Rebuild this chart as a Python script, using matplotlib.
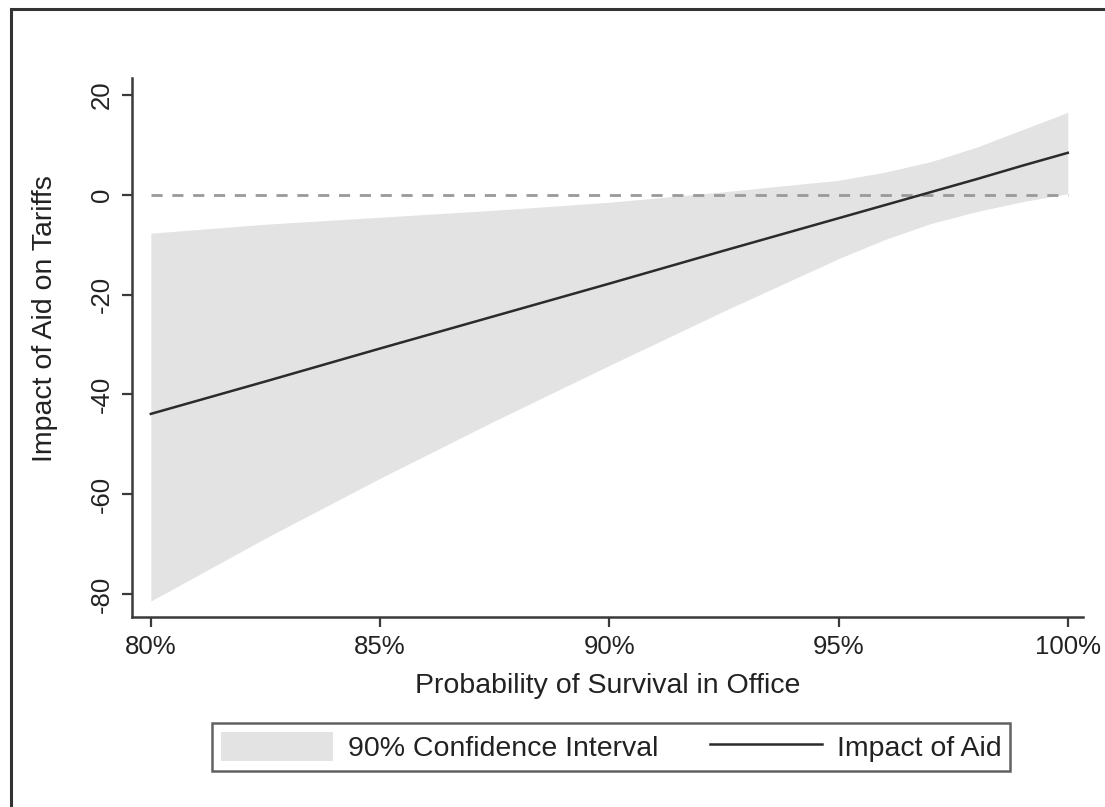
import matplotlib
matplotlib.use('Agg')
import matplotlib.pyplot as plt
from matplotlib.patches import Rectangle, Patch
from matplotlib.lines import Line2D
from matplotlib.ticker import FuncFormatter

plt.rcParams['font.family'] = ['Liberation Sans', 'DejaVu Sans']
plt.rcParams['axes.unicode_minus'] = False

# survival probability (%) and marginal effect with 90% CI
survival = [80, 82.5, 85, 87.5, 90, 92.5, 95, 96, 97, 98, 99, 100]
effect = [-43.9, -37.4, -30.8, -24.3, -17.8, -11.2, -4.7, -2.1, 0.5, 3.1, 5.8, 8.4]
ci_upper = [-7.7, -5.9, -4.5, -3.1, -1.5, 0.6, 2.9, 4.5, 6.6, 9.5, 13.0, 16.5]
ci_lower = [-81.4, -68.8, -56.8, -45.3, -34.2, -23.3, -12.8, -9.0, -5.8, -3.4, -1.4, 0.2]

xticks = [80, 85, 90, 95, 100]
yticks = [20, 0, -20, -40, -60, -80]

band_col = '#e3e3e3'
line_col = '#2b2b2b'
axis_col = '#3a3a3a'
text_col = '#222222'
tick_fs = 18.5
label_fs = 20.5

fig = plt.figure(figsize=(11.05, 8.07), dpi=100)
ax = fig.add_axes([0.1195, 0.2354, 0.8605, 0.668])

ax.fill_between(survival, ci_lower, ci_upper, color=band_col, linewidth=0, zorder=1)
ax.plot([survival[0], survival[-1]], [0, 0], color='#999999', lw=2, dashes=(4, 3.5), zorder=2)
ax.plot(survival, effect, color=line_col, lw=1.8, zorder=3)

ax.set_xlim(79.59, 100.33)
ax.set_ylim(-84.6, 23.4)
ax.set_xticks(xticks)
ax.set_yticks(yticks)
ax.xaxis.set_major_formatter(FuncFormatter(lambda v, p: '%d%%' % v))

for s in ['top', 'right']:
    ax.spines[s].set_visible(False)
for s in ['left', 'bottom']:
    ax.spines[s].set_color(axis_col)
    ax.spines[s].set_linewidth(1.8)

ax.tick_params(direction='out', length=7, width=1.6, color=axis_col,
               labelsize=tick_fs, labelcolor=text_col, pad=6)
for lab in ax.get_yticklabels():
    lab.set_rotation(90)
    lab.set_va('center')

ax.set_xlabel('Probability of Survival in Office', fontsize=label_fs, color=text_col, labelpad=10)
ax.set_ylabel('Impact of Aid on Tariffs', fontsize=label_fs, color=text_col)
ax.yaxis.set_label_coords(-0.078, 0.553)

handles = [Patch(facecolor=band_col, edgecolor='none'),
           Line2D([], [], color=line_col, lw=1.8)]
leg = fig.legend(handles, ['90% Confidence Interval', 'Impact of Aid'],
                 loc='center', bbox_to_anchor=(0.553, 0.0745), ncol=2,
                 fontsize=label_fs, frameon=True, fancybox=False, edgecolor=axis_col,
                 handlelength=3.95, handleheight=1.2, handletextpad=0.52,
                 columnspacing=1.8, borderpad=0.3, borderaxespad=0,
                 labelcolor=text_col)
leg.get_frame().set_linewidth(1.8)

# outer frame of the original graph (right and bottom edges cropped off)
fig.patches.append(Rectangle((11 / 1105, -0.1), 1.2, 0.1 + (807 - 9) / 807,
                             transform=fig.transFigure, fill=False,
                             edgecolor='#333333', linewidth=2.2))

fig.savefig('out.png', dpi=100)
